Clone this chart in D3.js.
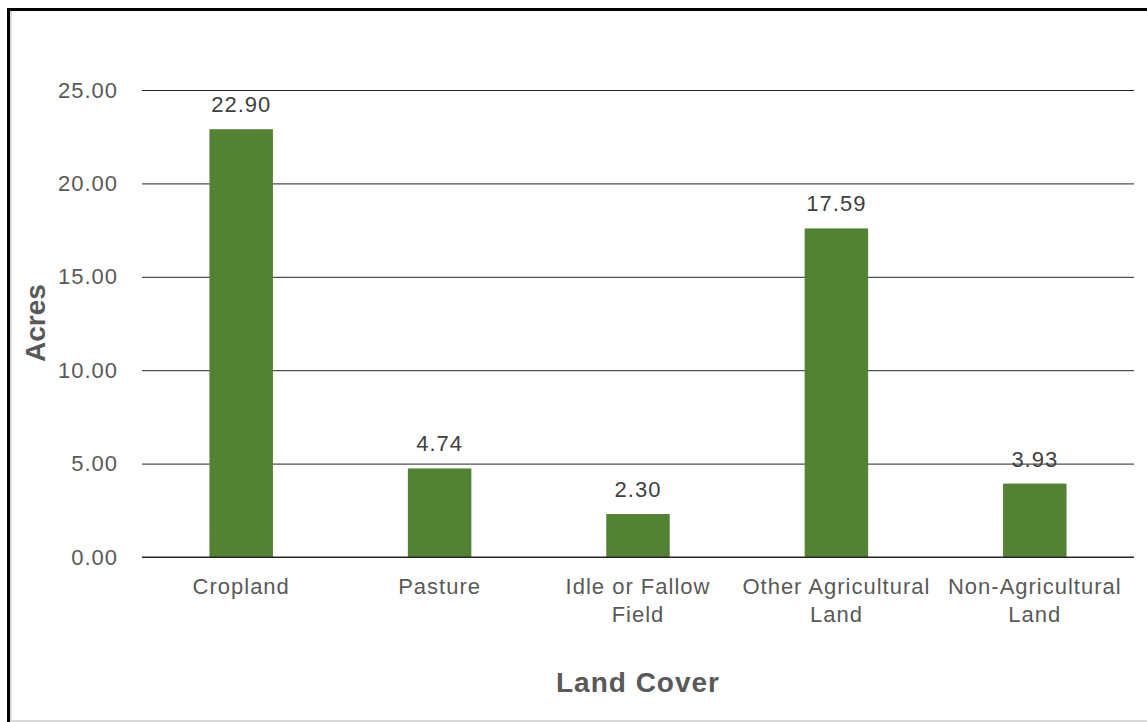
<!DOCTYPE html>
<html>
<head>
<meta charset="utf-8">
<script src="https://cdnjs.cloudflare.com/ajax/libs/d3/7.8.5/d3.min.js"></script>
<style>
  html, body { margin:0; padding:0; background:#fff; }
  svg text { font-family: "Liberation Sans", Arial, sans-serif; fill:#595959; }
</style>
</head>
<body>
<div id="canvas"></div>
<script>
// ---- DATA ----
var categories = [['Cropland'], ['Pasture'], ['Idle or Fallow', 'Field'], ['Other Agricultural', 'Land'], ['Non-Agricultural', 'Land']];
var acres = [22.90, 4.74, 2.30, 17.59, 3.93];
var yTicks = [0, 5, 10, 15, 20, 25];

// ---- CONVENTIONS ----
var outerWidth = 1147, outerHeight = 722;
var margin = {top:90, right:13, bottom:165, left:142};
var width = outerWidth - margin.left - margin.right,
    height = outerHeight - margin.top - margin.bottom;

var svg = d3.select('#canvas')
    .append('svg')
    .attr('width', outerWidth)
    .attr('height', outerHeight);

// frame
svg.append('line').attr('x1', 11).attr('x2', 11).attr('y1', 11).attr('y2', 721)
    .style('stroke', '#d9d9d9').style('stroke-width', 2);
svg.append('line').attr('x1', 8.5).attr('x2', 8.5).attr('y1', 8).attr('y2', 722)
    .style('stroke', '#000').style('stroke-width', 3);
svg.append('line').attr('x1', 7).attr('x2', 1147).attr('y1', 9.5).attr('y2', 9.5)
    .style('stroke', '#000').style('stroke-width', 3);
svg.append('line').attr('x1', 10).attr('x2', 1147).attr('y1', 721).attr('y2', 721)
    .style('stroke', '#d9d9d9').style('stroke-width', 2);

var plot = svg.append('g')
    .attr('transform', 'translate(' + margin.left + ',' + margin.top + ')');

// ---- SCALES ----
var scaleX = d3.scaleBand()
    .domain(d3.range(categories.length))
    .range([0, width])
    .paddingInner(0.68)
    .paddingOuter(0.34);

var scaleY = d3.scaleLinear()
    .domain([0, 25])
    .range([height, 0]);

// ---- AXES ----
var axisY = d3.axisLeft()
    .scale(scaleY)
    .tickValues(yTicks)
    .tickSize(-width)
    .tickPadding(24)
    .tickFormat(d3.format('.2f'));

var gy = plot.append('g').attr('class', 'axis axis-y').call(axisY);
gy.select('.domain').remove();
gy.selectAll('.tick line').style('stroke', '#262626').style('stroke-width', 1);
gy.selectAll('.tick text')
    .style('font-size', '22px')
    .style('letter-spacing', '1px')
    .style('fill', '#595959');

// ---- BARS ----
plot.selectAll('.bar')
    .data(acres)
    .enter()
    .append('rect')
    .attr('class', 'bar')
    .attr('x', function(d, i){ return scaleX(i); })
    .attr('width', scaleX.bandwidth())
    .attr('y', function(d){ return scaleY(d); })
    .attr('height', function(d){ return height - scaleY(d); })
    .style('fill', '#548235');

// baseline over bars
plot.append('line')
    .attr('x1', 0).attr('x2', width)
    .attr('y1', scaleY(0)).attr('y2', scaleY(0))
    .style('stroke', '#262626').style('stroke-width', 1);

// value labels
plot.selectAll('.val')
    .data(acres)
    .enter()
    .append('text')
    .attr('class', 'val')
    .attr('x', function(d, i){ return scaleX(i) + scaleX.bandwidth() / 2; })
    .attr('y', function(d){ return scaleY(d) - 17; })
    .attr('text-anchor', 'middle')
    .style('font-size', '22px')
    .style('letter-spacing', '1px')
    .style('fill', '#404040')
    .text(function(d){ return d3.format('.2f')(d); });

// category labels
var cat = plot.selectAll('.cat')
    .data(categories)
    .enter()
    .append('text')
    .attr('class', 'cat')
    .attr('text-anchor', 'middle')
    .attr('transform', function(d, i){
        return 'translate(' + (scaleX(i) + scaleX.bandwidth() / 2) + ',' + (height + 37) + ')';
    })
    .style('font-size', '22px')
    .style('letter-spacing', '1px');

cat.selectAll('tspan')
    .data(function(d){ return d; })
    .enter()
    .append('tspan')
    .attr('x', 0)
    .attr('dy', function(d, i){ return i === 0 ? 0 : 28; })
    .text(function(d){ return d; });

// axis titles
plot.append('text')
    .attr('x', width / 2)
    .attr('y', height + 135)
    .attr('text-anchor', 'middle')
    .style('font-size', '28px')
    .style('font-weight', 'bold')
    .style('letter-spacing', '1px')
    .text('Land Cover');

plot.append('text')
    .attr('transform', 'translate(' + (45 - margin.left) + ',' + (323 - margin.top) + ') rotate(-90)')
    .attr('text-anchor', 'middle')
    .style('font-size', '28px')
    .style('font-weight', 'bold')
    .text('Acres');
</script>
</body>
</html>
